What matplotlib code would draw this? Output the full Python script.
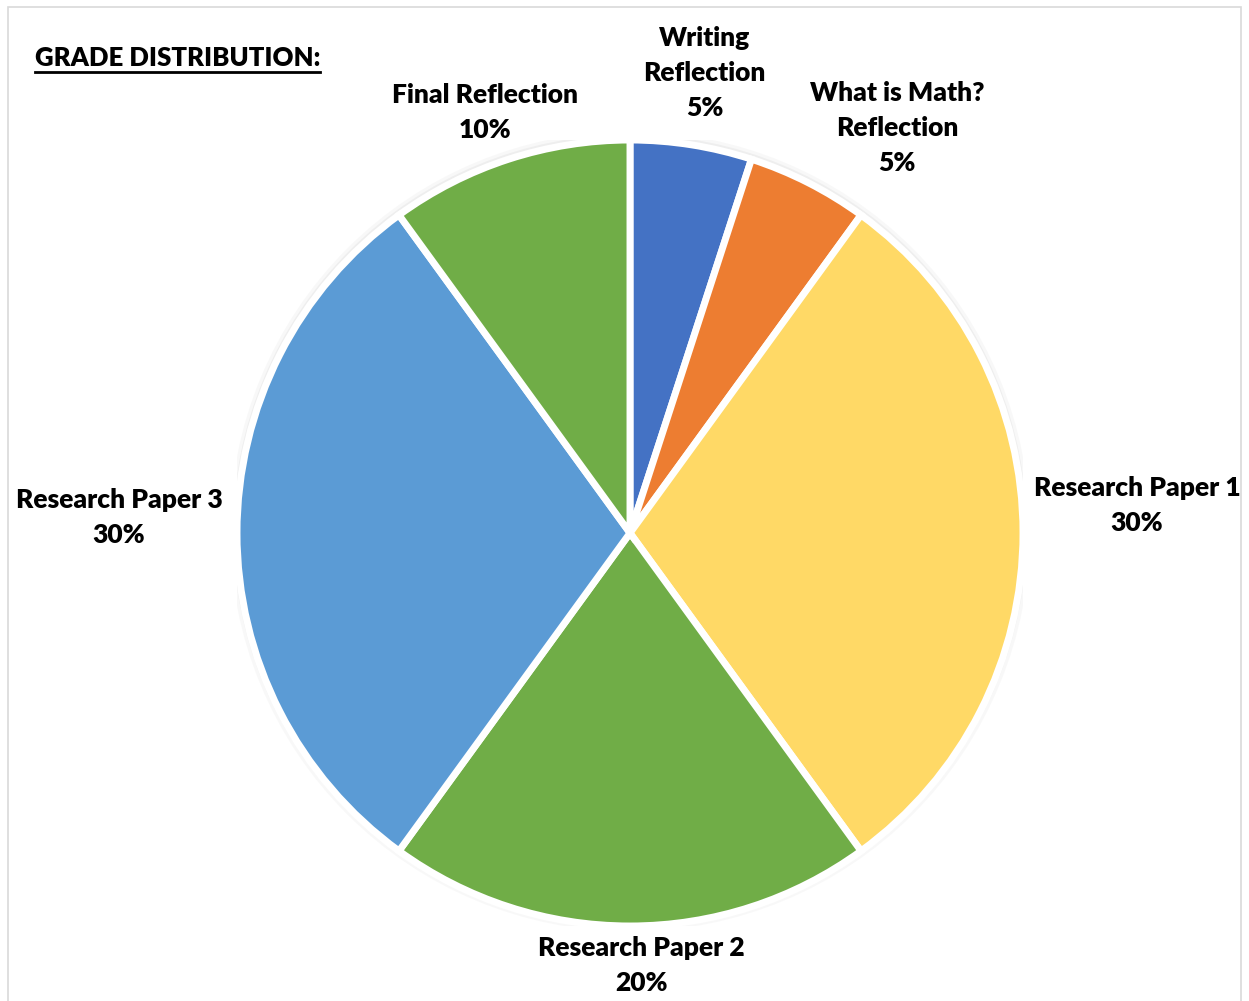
import matplotlib.pyplot as plt
from matplotlib.patches import Rectangle, Circle
from matplotlib.lines import Line2D

# grade components, clockwise from 12 o'clock
labels = ['Writing\nReflection', 'What is Math?\nReflection', 'Research Paper 1',
          'Research Paper 2', 'Research Paper 3', 'Final Reflection']
shares = [5, 5, 30, 20, 30, 10]
colors = ['#4472C4', '#ED7D31', '#FFD966', '#70AD47', '#5B9BD5', '#70AD47']
# label centres in pie-radius units (Excel "best fit" places them by hand)
label_x = [0.19, 0.68, 1.29, 0.03, -1.30, -0.37]
label_y = [1.17, 1.03, 0.07, -1.10, 0.04, 1.07]

plt.rcParams['font.family'] = ['Lato', 'DejaVu Sans']

fig = plt.figure(figsize=(12.49, 10.01), dpi=100)
fig.patches.append(Rectangle((8 / 1249, -0.01), 1233 / 1249, 1 - 7 / 1001 + 0.01,
                             transform=fig.transFigure, fill=False,
                             edgecolor='#d9d9d9', linewidth=1.2))

ax = fig.add_axes([237 / 1249, 75 / 1001, 786 / 1249, 786 / 1001])
# faint soft shadow round the pie
for r, a in [(1.018, 0.05), (1.010, 0.08)]:
    ax.add_patch(Circle((0, 0.004), r, color='#808080', alpha=a, lw=0, zorder=0))
ax.pie(shares, colors=colors, startangle=90, counterclock=False, radius=1,
       wedgeprops=dict(edgecolor='white', linewidth=5, zorder=1))
ax.set_xlim(-1, 1)
ax.set_ylim(-1, 1)
ax.set_aspect('equal')
ax.axis('off')

for lab, s, x, y in zip(labels, shares, label_x, label_y):
    ax.text(x, y, f'{lab}\n{s}%', ha='center', va='center', fontsize=19,
            fontweight='heavy', linespacing=1.55, clip_on=False)

title = fig.text(35 / 1249, 1 - 58 / 1001, 'GRADE DISTRIBUTION:', ha='left',
                 va='center', fontsize=18.5, fontweight='heavy')
fig.canvas.draw()
bb = title.get_window_extent().transformed(fig.transFigure.inverted())
fig.lines.append(Line2D([bb.x0, bb.x1], [bb.y0 - 0.002, bb.y0 - 0.002],
                        transform=fig.transFigure, color='black', linewidth=2))

fig.savefig('out.png', dpi=100)
